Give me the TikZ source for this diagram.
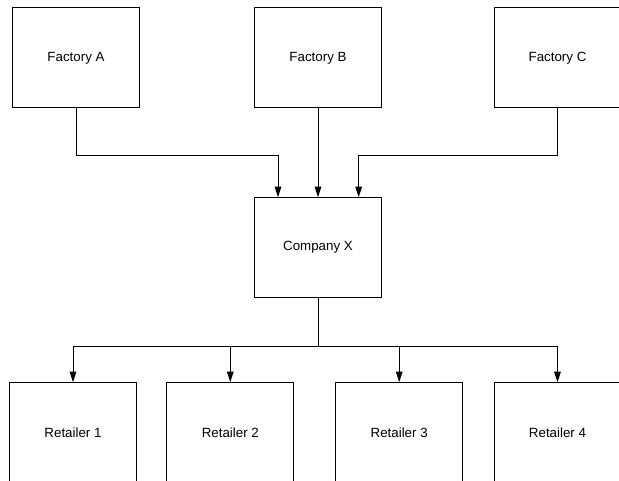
\documentclass[tikz,border=0pt]{standalone}
\usepackage{fontspec}
\setmainfont{Liberation Sans}
\usetikzlibrary{arrows.meta}
\begin{document}
\begin{tikzpicture}[x=0.75pt,y=-0.75pt,
 box/.style={draw, line width=0.75pt, minimum width=95.25pt, minimum height=75pt, inner sep=0pt, font=\fontsize{10}{12}\selectfont},
 arr/.style={line width=0.75pt, -{Triangle[length=8pt,width=5pt]}},
 lin/.style={line width=0.75pt}]
\useasboundingbox (0,0) rectangle (619,481);
\clip (0,0) rectangle (619,481);
\node[box] (fa) at (76,58) {Factory A};
\node[box] (fb) at (318,58) {Factory B};
\node[box] (fc) at (557.5,58) {Factory C};
\node[box] (cx) at (318,247.7) {Company X};
\node[box] (r1) at (73,432.7) {Retailer 1};
\node[box] (r2) at (230.3,432.7) {Retailer 2};
\node[box] (r3) at (399.2,432.7) {Retailer 3};
\node[box] (r4) at (557.5,432.7) {Retailer 4};
\draw[arr] (fa.south) -- ++(0,47.3) -| ([xshift=18pt]cx.north west);
\draw[arr] (fb.south) -- (cx.north);
\draw[arr] (fc.south) -- ++(0,47.3) -| ([xshift=-17.5pt]cx.north east);
\draw[lin] (cx.south) -- ++(0,48.7) coordinate (j);
\draw[arr] (j) -| (r1.north);
\draw[arr] (j) -| (r2.north);
\draw[arr] (j) -| (r3.north);
\draw[arr] (j) -| (r4.north);
\end{tikzpicture}
\end{document}
